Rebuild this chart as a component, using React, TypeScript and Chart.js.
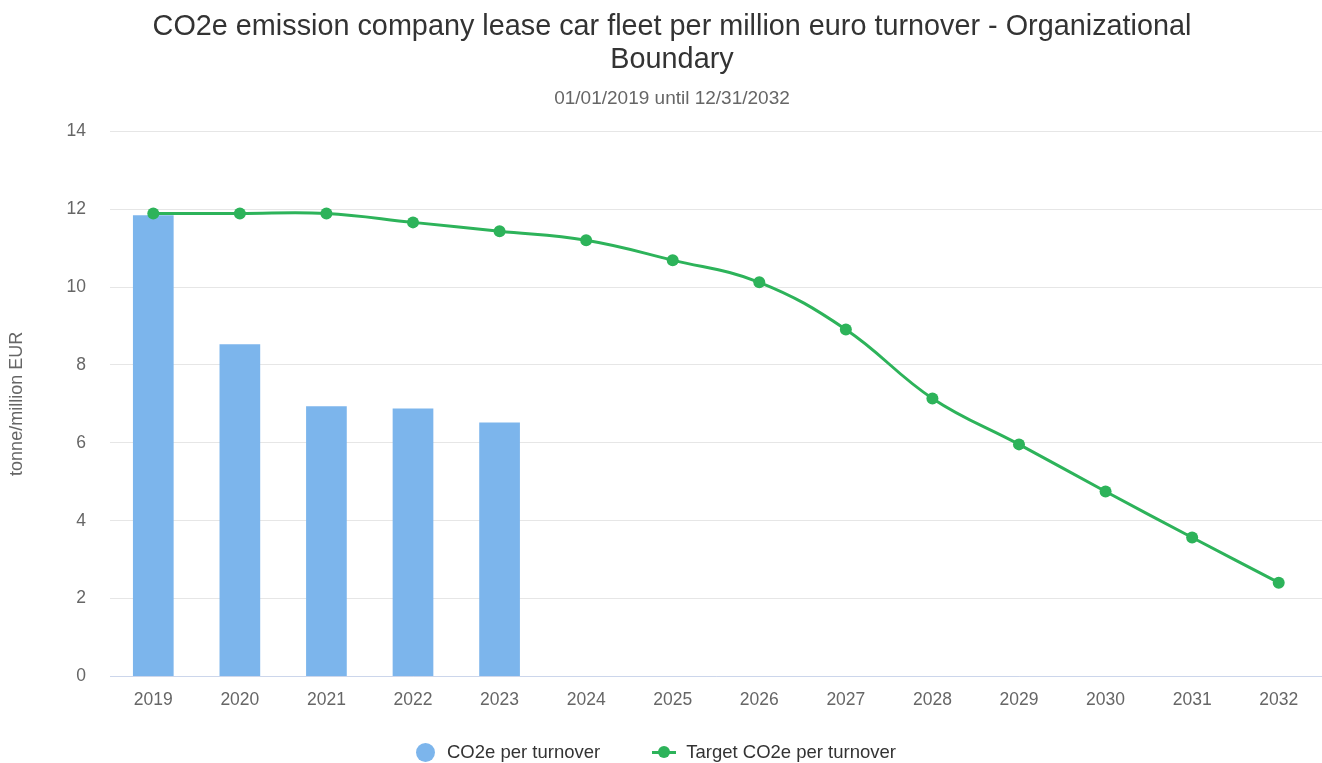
import React, { useEffect, useRef } from "react";
import { Chart, registerables } from "chart.js";

Chart.register(...registerables);

const years = ["2019", "2020", "2021", "2022", "2023", "2024", "2025", "2026", "2027", "2028", "2029", "2030", "2031", "2032"];
const actualValues = [11.84, 8.53, 6.94, 6.88, 6.52];
const targetValues = [11.89, 11.89, 11.89, 11.66, 11.43, 11.2, 10.69, 10.12, 8.91, 7.14, 5.96, 4.75, 3.57, 2.41];
const yMin = 0;
const yMax = 14;
const yStep = 2;

const titleLines = ["CO2e emission company lease car fleet per million euro turnover - Organizational", "Boundary"];
const subtitleText = "01/01/2019 until 12/31/2032";
const yAxisTitle = "tonne/million EUR";
const actualLabel = "CO2e per turnover";
const targetLabel = "Target CO2e per turnover";

const FONT = '"Liberation Sans", Arial, Helvetica, sans-serif';
const BLUE = "#7cb5ec";
const GREEN = "#2db35a";

export default function App() {
  const ref = useRef<HTMLCanvasElement>(null);

  useEffect(() => {
    const chart = new Chart(ref.current!, {
      type: "bar",
      data: {
        labels: years,
        datasets: [
          {
            type: "line",
            label: targetLabel,
            data: targetValues,
            borderColor: GREEN,
            backgroundColor: GREEN,
            borderWidth: 3,
            pointRadius: 6,
            pointBackgroundColor: GREEN,
            pointBorderWidth: 0,
            tension: 0.4,
            order: 0,
          } as any,
          {
            type: "bar",
            label: actualLabel,
            data: actualValues,
            backgroundColor: BLUE,
            barPercentage: 0.47,
            categoryPercentage: 1,
            order: 1,
          } as any,
        ],
      },
      options: {
        responsive: false,
        animation: false,
        devicePixelRatio: 1,
        layout: { autoPadding: false, padding: { left: 22, right: 0, top: 0, bottom: 38.5 } },
        plugins: {
          legend: { display: false },
          tooltip: { enabled: false },
          title: {
            display: true,
            text: titleLines,
            color: "#333333",
            font: { family: FONT, size: 28.8, weight: "normal", lineHeight: 1.15 },
            padding: { top: 10, bottom: 0 },
          },
          subtitle: {
            display: true,
            text: subtitleText,
            color: "#666666",
            font: { family: FONT, size: 19, weight: "normal", lineHeight: 1.2 },
            padding: { top: 11, bottom: 21.2 },
          },
        },
        scales: {
          x: {
            afterFit: (s: any) => {
              s.paddingLeft = 0;
              s.paddingRight = 0;
            },
            grid: { display: false, drawTicks: false },
            border: { display: true, color: "#ccd6eb", width: 1 },
            ticks: {
              color: "#666666",
              font: { family: FONT, size: 17.5 },
              padding: 13.5,
              maxRotation: 0,
              autoSkip: false,
            },
          },
          y: {
            min: yMin,
            max: yMax,
            afterFit: (s: any) => {
              s.width = 88;
            },
            ticks: {
              stepSize: yStep,
              padding: 24,
              color: "#666666",
              font: { family: FONT, size: 17.5 },
            },
            grid: { color: "#e6e6e6", drawTicks: false, lineWidth: 1 },
            border: { display: false },
            title: {
              display: true,
              text: yAxisTitle,
              color: "#666666",
              font: { family: FONT, size: 18 },
              padding: { top: -15.8, bottom: 0 },
            },
          },
        },
      } as any,
    });
    return () => chart.destroy();
  }, []);

  return (
    <div style={{ position: "fixed", left: 0, top: 0, width: 1322, height: 763, overflow: "hidden", background: "#fff" }}>
      <canvas ref={ref} width={1322} height={763} style={{ display: "block", width: 1322, height: 763 }} />
      <div
        style={{
          position: "absolute",
          left: 0,
          width: 1312,
          top: 741,
          height: 22,
          display: "flex",
          justifyContent: "center",
          alignItems: "center",
          fontFamily: FONT,
          fontSize: 18.5,
          lineHeight: "22px",
          color: "#333333",
          whiteSpace: "nowrap",
        }}
      >
        <div style={{ display: "flex", alignItems: "center" }}>
          <span style={{ display: "inline-block", width: 19, height: 19, borderRadius: "50%", background: BLUE, marginRight: 12 }} />
          <span>{actualLabel}</span>
        </div>
        <div style={{ display: "flex", alignItems: "center", marginLeft: 52 }}>
          <span style={{ position: "relative", display: "inline-block", width: 24, height: 12, marginRight: 10 }}>
            <span style={{ position: "absolute", left: 0, top: 5, width: 24, height: 3, background: GREEN }} />
            <span style={{ position: "absolute", left: 6, top: 0, width: 12, height: 12, borderRadius: "50%", background: GREEN }} />
          </span>
          <span>{targetLabel}</span>
        </div>
      </div>
    </div>
  );
}
